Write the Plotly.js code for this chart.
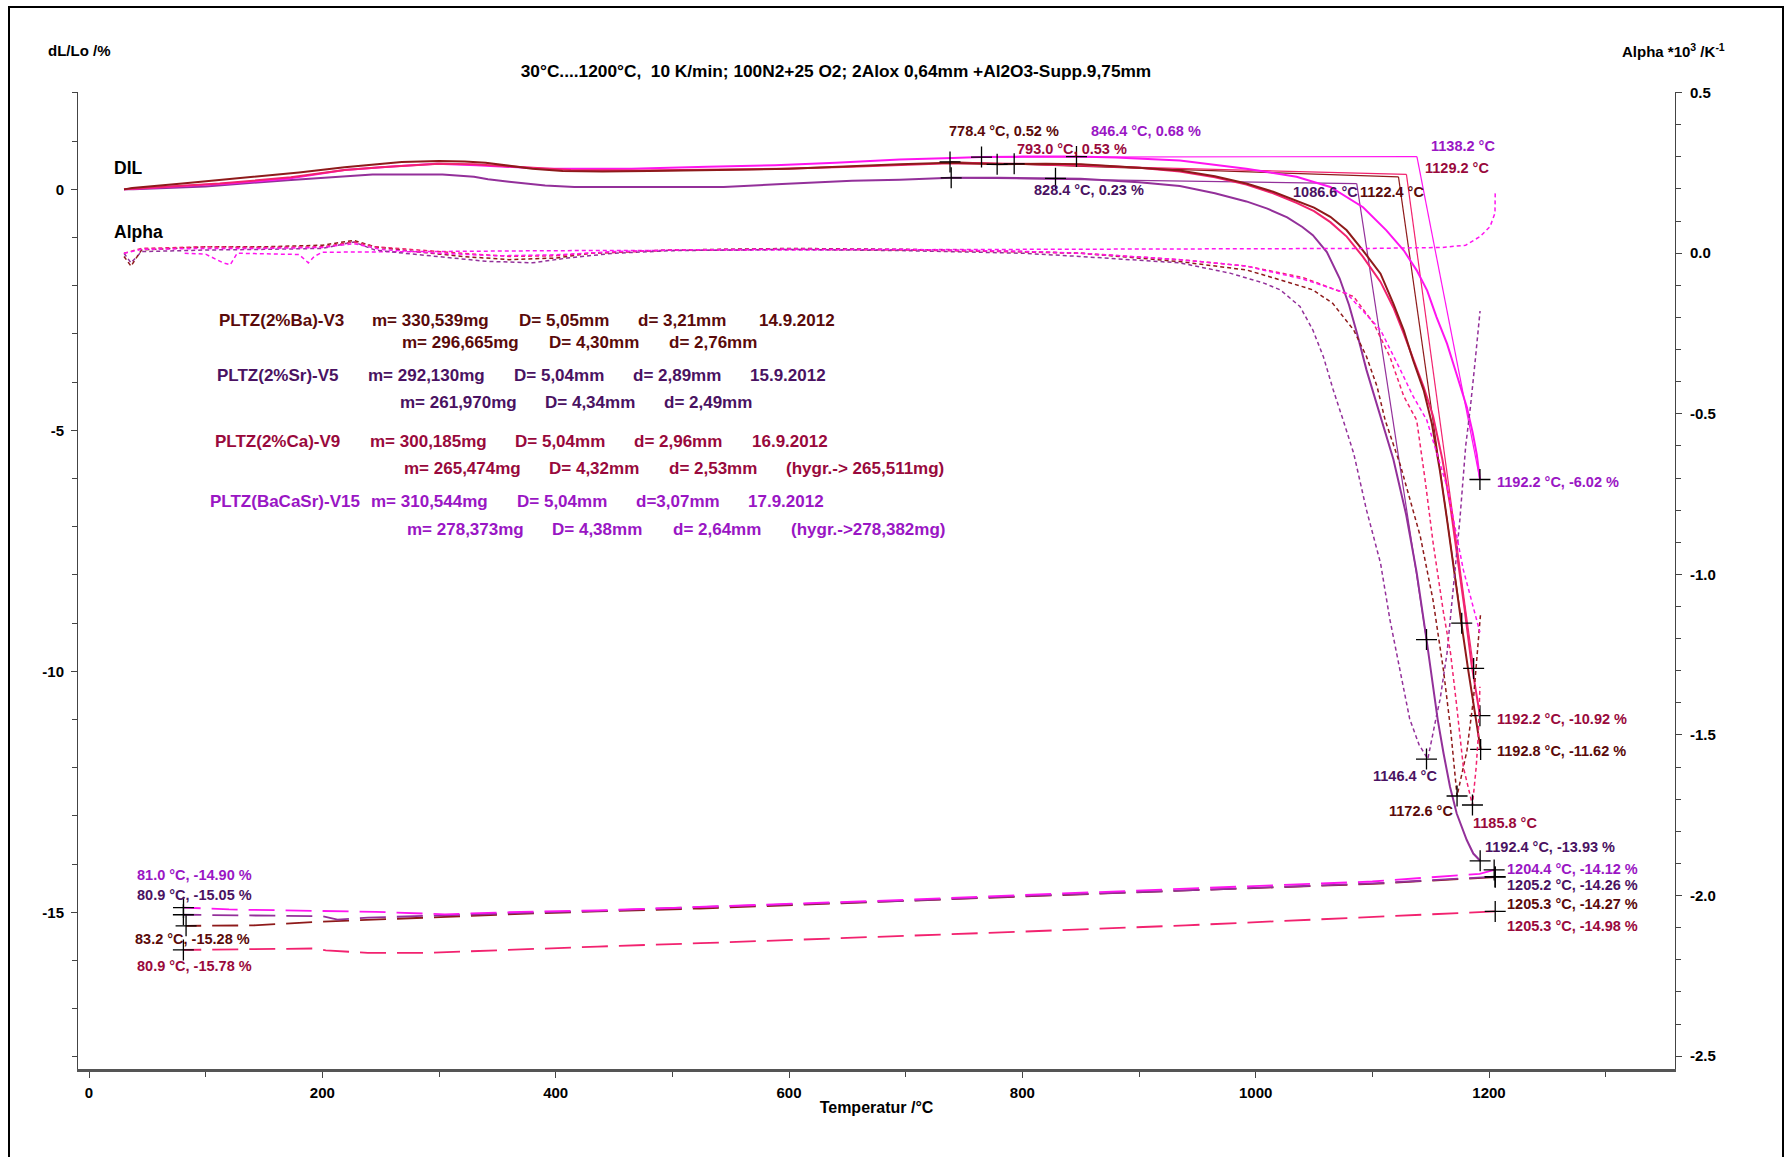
<!DOCTYPE html>
<html><head><meta charset="utf-8">
<script src="https://cdn.plot.ly/plotly-3.0.1.min.js"></script>
<style>html,body{margin:0;padding:0;background:#fff;}#chart{width:1792px;height:1157px;}</style>
</head><body><div id="chart"></div>
<script>
// ---------------- DATA ----------------
// DIL heating curves (temperature °C, dL/Lo %)
const baDilT = [30,37,80,145,180,219,250,268,300,322,340,357,380,406,440,480,520,568,600,650,695,738,779,820,850,900,935,965,992,1015,1035,1050,1064,1078,1092,1107,1118,1127,1135,1144,1151,1158,1164,1170,1176.6,1182,1187,1190,1192.8];
const baDilL = [0,0.03,0.12,0.26,0.35,0.46,0.53,0.57,0.59,0.58,0.55,0.50,0.43,0.38,0.37,0.38,0.39,0.41,0.43,0.48,0.52,0.55,0.52,0.53,0.52,0.45,0.39,0.27,0.12,-0.05,-0.23,-0.38,-0.57,-0.85,-1.27,-1.75,-2.37,-2.93,-3.55,-4.17,-4.86,-5.85,-6.85,-7.95,-9.05,-9.95,-10.75,-11.2,-11.62];
const caDilT = [30,80,112,173,219,250,300,330,356,390,413,473,533,594,654,714,738,793,850,900,935,965,992,1015,1035,1050,1064,1078,1092,1107,1118,1127,1135,1144,1152,1160,1167,1173,1179,1185,1189,1192.2];
const caDilL = [0,0.07,0.12,0.25,0.40,0.46,0.53,0.52,0.48,0.42,0.40,0.39,0.41,0.43,0.47,0.52,0.54,0.53,0.51,0.45,0.37,0.25,0.10,-0.08,-0.28,-0.45,-0.68,-0.98,-1.40,-1.92,-2.45,-3.0,-3.5,-4.1,-4.7,-5.6,-6.6,-7.6,-8.7,-9.85,-10.5,-10.92];
const srDilT = [30,38,100,170,243,303,330,342,360,391,416,480,544,594,613,654,695,739,780,828.4,850,900,935,965,992,1010,1027,1040,1049,1061,1072,1080,1087,1095,1107,1118,1129,1138,1146.5,1152,1156,1161,1166.6,1172.3,1180.9,1186.5,1192.4];
const srDilL = [0,0,0.06,0.19,0.31,0.31,0.26,0.21,0.16,0.08,0.05,0.05,0.05,0.11,0.13,0.18,0.20,0.24,0.24,0.23,0.22,0.15,0.07,-0.08,-0.25,-0.40,-0.58,-0.78,-0.95,-1.3,-1.85,-2.4,-3.0,-3.75,-4.7,-5.6,-6.75,-7.95,-9.35,-10.3,-11.0,-11.7,-12.4,-12.95,-13.5,-13.78,-13.93];
const v15DilT = [30,80,120,170,219,263,298,332,360,391,440,465,530,588,640,695,740,765,800,846.4,880,935,992,1035,1064,1092,1112,1127,1138,1147,1155,1164,1172,1181,1186,1189.5,1192.2];
const v15DilL = [0,0.06,0.12,0.22,0.40,0.48,0.53,0.50,0.47,0.43,0.43,0.43,0.47,0.50,0.55,0.62,0.65,0.67,0.68,0.68,0.66,0.60,0.43,0.26,0.05,-0.37,-0.85,-1.27,-1.68,-2.1,-2.65,-3.2,-3.82,-4.52,-5.05,-5.5,-6.02];

// DIL cooling curves
const v15CoolT = [1204.4,1192,1100,935,800,700,610,524,436,370,305,246,190,120,81.0];
const v15CoolL = [-14.12,-14.2,-14.36,-14.51,-14.64,-14.74,-14.81,-14.88,-14.96,-14.99,-15.04,-14.99,-14.97,-14.94,-14.90];
const srCoolT = [1205.2,1100,935,800,700,610,524,436,370,305,239,213,200,120,80.9];
const srCoolL = [-14.26,-14.40,-14.55,-14.66,-14.76,-14.82,-14.89,-14.97,-15.01,-15.06,-15.11,-15.15,-15.08,-15.07,-15.05];
const baCoolT = [1205.3,1100,935,800,700,610,524,436,370,288,193,141,83.2];
const baCoolL = [-14.27,-14.41,-14.55,-14.67,-14.77,-14.84,-14.92,-14.98,-15.03,-15.11,-15.20,-15.27,-15.28];
const caCoolT = [1205.3,1078,940,800,700,610,524,436,337,291,239,203,193,120,80.9];
const caCoolL = [-14.98,-15.12,-15.27,-15.40,-15.49,-15.56,-15.64,-15.71,-15.79,-15.84,-15.84,-15.79,-15.75,-15.77,-15.78];

// Alpha curves (10^-3 /K), right axis
const baAlphaT = [30,36,45,100,150,200,227,245,280,320,360,400,430,500,600,700,800,850,935,992,1021,1049,1066,1084,1095,1104,1111,1124,1141,1152,1161,1167,1172.6,1181,1186.6,1190,1192.8];
const baAlphaR = [-0.01,-0.04,0.01,0.02,0.02,0.025,0.04,0.02,0.005,-0.01,-0.02,-0.015,0.0,0.01,0.015,0.012,0.005,0.0,-0.026,-0.052,-0.083,-0.114,-0.156,-0.239,-0.322,-0.415,-0.52,-0.66,-0.88,-1.08,-1.3,-1.48,-1.69,-1.55,-1.39,-1.25,-1.12];
const caAlphaT = [30,45,100,150,200,227,245,280,320,360,400,430,500,600,700,800,850,935,992,1040,1084,1101,1115,1127,1138,1145,1152,1161,1167,1172,1178,1185.8,1189,1190.8,1192.2];
const caAlphaR = [0.0,0.015,0.02,0.018,0.02,0.035,0.02,0.01,0.0,-0.01,-0.008,0.0,0.01,0.013,0.01,0.004,0.0,-0.02,-0.04,-0.075,-0.135,-0.218,-0.322,-0.446,-0.52,-0.7,-0.9,-1.12,-1.245,-1.40,-1.60,-1.718,-1.6,-1.5,-1.35];
const srAlphaT = [30,36,45,100,150,200,227,245,270,300,340,380,410,450,500,600,700,800,849,935,978,1007,1021,1038,1049,1058,1066.5,1075,1084,1095,1107,1115,1126.5,1132,1140,1147.5,1155,1158,1164,1169.4,1175,1180,1184,1188,1192.3];
const srAlphaR = [0.0,-0.03,0.005,0.01,0.012,0.015,0.035,0.01,0.0,-0.01,-0.025,-0.03,-0.015,0.0,0.008,0.012,0.008,0.0,-0.01,-0.03,-0.062,-0.093,-0.114,-0.166,-0.239,-0.322,-0.426,-0.52,-0.623,-0.80,-0.965,-1.14,-1.35,-1.45,-1.53,-1.575,-1.44,-1.39,-1.245,-1.04,-0.83,-0.6,-0.48,-0.34,-0.18];
const v15AlphaT = [30,45,100,150,200,227,250,300,350,400,450,500,600,700,800,850,935,992,1006,1040,1078,1107,1124,1135,1146.6,1164,1178,1186,1192.2];
const v15AlphaR = [0.0,0.012,0.015,0.015,0.018,0.03,0.012,0.0,-0.008,-0.005,0.005,0.01,0.013,0.012,0.006,0.0,-0.02,-0.04,-0.052,-0.08,-0.125,-0.239,-0.363,-0.446,-0.519,-0.727,-0.986,-1.1,-1.18];
const v15CoolAlphaT = [82,100,115,121,127,180,188,193,200,300,400,600,800,1000,1100,1160,1180,1192.3,1200.9,1205.1,1205.3];
const v15CoolAlphaR = [0.0,-0.003,-0.03,-0.036,0.0,-0.004,-0.03,-0.01,0.003,0.006,0.008,0.01,0.012,0.013,0.015,0.018,0.025,0.052,0.083,0.125,0.187];

// Onset construction lines (tangents)
const baBaseT = [738,1122.4], baBaseL = [0.57,0.26];
const baStepT = [1122.4,1176.6], baStepL = [0.26,-9.0];
const caBaseT = [738,1129.2], caBaseL = [0.56,0.31];
const caStepT = [1129.2,1186.8], caStepL = [0.31,-9.94];
const srBaseT = [739,1086.6], srBaseL = [0.24,0.12];
const srStepT = [1086.6,1146.4], srStepL = [0.12,-9.34];
const v15BaseT = [765,1138.2], v15BaseL = [0.67,0.68];
const v15StepT = [1138.2,1192.2], v15StepL = [0.68,-6.02];

// Evaluation markers
const dilMarkT = [738,778.4,793.0,765,846.4,739,828.4,1146.4,1176.6,1186.8,1192.2,1192.2,1192.8,1192.4,1204.4,1205.2,1205.3,1205.3,81.0,80.9,83.2,80.9];
const dilMarkL = [0.57,0.52,0.53,0.67,0.68,0.24,0.23,-9.34,-9.0,-9.94,-6.02,-10.92,-11.62,-13.93,-14.12,-14.26,-14.27,-14.98,-14.90,-15.05,-15.28,-15.78];
const alphaMarkT = [1146.4,1172.6,1185.8];
const alphaMarkR = [-1.575,-1.69,-1.718];

// Evaluation label texts and their sample
const labelTexts = ['778.4 °C, 0.52 %','846.4 °C, 0.68 %','793.0 °C, 0.53 %','828.4 °C, 0.23 %','1138.2 °C','1129.2 °C','1086.6 °C','1122.4 °C','1192.2 °C, -6.02 %','1192.2 °C, -10.92 %','1192.8 °C, -11.62 %','1146.4 °C','1172.6 °C','1185.8 °C','1192.4 °C, -13.93 %','1204.4 °C, -14.12 %','1205.2 °C, -14.26 %','1205.3 °C, -14.27 %','1205.3 °C, -14.98 %','81.0 °C, -14.90 %','80.9 °C, -15.05 %','83.2 °C, -15.28 %','80.9 °C, -15.78 %'];
const labelSample = ['ba','v15','ca','sr','v15','ca','sr','ba','v15','ca','ba','sr','ba','ca','sr','v15','sr','ba','ca','v15','sr','ba','ca'];

// Sample info text block
const infoRows = [
 ['PLTZ(2%Ba)-V3','m= 330,539mg','D= 5,05mm','d= 3,21mm','14.9.2012'],
 ['','m= 296,665mg','D= 4,30mm','d= 2,76mm',''],
 ['PLTZ(2%Sr)-V5','m= 292,130mg','D= 5,04mm','d= 2,89mm','15.9.2012'],
 ['','m= 261,970mg','D= 4,34mm','d= 2,49mm',''],
 ['PLTZ(2%Ca)-V9','m= 300,185mg','D= 5,04mm','d= 2,96mm','16.9.2012'],
 ['','m= 265,474mg','D= 4,32mm','d= 2,53mm','(hygr.-> 265,511mg)'],
 ['PLTZ(BaCaSr)-V15','m= 310,544mg','D= 5,04mm','d=3,07mm','17.9.2012'],
 ['','m= 278,373mg','D= 4,38mm','d= 2,64mm','(hygr.->278,382mg)']
];
const infoSample = ['ba','ba','sr','sr','ca','ca','v15','v15'];

// Axis ticks
const xTickVals = [0,200,400,600,800,1000,1200];
const xTickText = ['0','200','400','600','800','1000','1200'];
const yTickVals = [0,-5,-10,-15];
const yTickText = ['0','-5','-10','-15'];
const y2TickVals = [0.5,0,-0.5,-1,-1.5,-2,-2.5];
const y2TickText = ['0.5','0.0','-0.5','-1.0','-1.5','-2.0','-2.5'];

const chartTitle = '30°C....1200°C,  10 K/min; 100N2+25 O2; 2Alox 0,64mm +Al2O3-Supp.9,75mm';

// ---------------- STYLE / LAYOUT ----------------
const FONT = "'Liberation Sans', Arial, Helvetica, sans-serif";
const LINE = {ba:'#8E1A1A', sr:'#93309A', ca:'#F2226F', v15:'#FF14F0'};
const TXT = {ba:'#5A0A0A', sr:'#4A1262', ca:'#99093C', v15:'#9A16C4'};

const W = 1792, H = 1157;
const PL = 78, PR = 1675, PT = 92, PB = 1069;
const px2x = p => (p - PL) / (PR - PL);
const px2y = p => (PB - p) / (PB - PT);

function ln(x, y, color, width, dash, yaxis) {
  return {type:'scatter', mode:'lines', x:x, y:y, yaxis:yaxis||'y',
    line:{color:color, width:width, dash:dash||'solid'}, hoverinfo:'skip', showlegend:false};
}
const DASH = '26px,11px', DOT = '4px,3px';
const traces = [
  // alpha (dotted, right axis)
  ln(v15CoolAlphaT, v15CoolAlphaR, LINE.v15, 1.5, DOT, 'y2'),
  ln(srAlphaT, srAlphaR, LINE.sr, 1.5, DOT, 'y2'),
  ln(baAlphaT, baAlphaR, LINE.ba, 1.5, DOT, 'y2'),
  ln(caAlphaT, caAlphaR, LINE.ca, 1.5, DOT, 'y2'),
  ln(v15AlphaT, v15AlphaR, LINE.v15, 1.5, DOT, 'y2'),
  // cooling (dashed)
  ln(caCoolT, caCoolL, LINE.ca, 1.8, DASH),
  ln(baCoolT, baCoolL, LINE.ba, 1.8, DASH),
  ln(srCoolT, srCoolL, LINE.sr, 1.8, DASH),
  ln(v15CoolT, v15CoolL, LINE.v15, 1.8, DASH),
  // tangents
  ln(srBaseT, srBaseL, LINE.sr, 1.2), ln(srStepT, srStepL, LINE.sr, 1.2),
  ln(baBaseT, baBaseL, LINE.ba, 1.2), ln(baStepT, baStepL, LINE.ba, 1.2),
  ln(caBaseT, caBaseL, LINE.ca, 1.2), ln(caStepT, caStepL, LINE.ca, 1.2),
  ln(v15BaseT, v15BaseL, LINE.v15, 1.2), ln(v15StepT, v15StepL, LINE.v15, 1.2),
  // heating DIL
  ln(srDilT, srDilL, LINE.sr, 2),
  ln(v15DilT, v15DilL, LINE.v15, 2),
  ln(caDilT, caDilL, LINE.ca, 2),
  ln(baDilT, baDilL, LINE.ba, 2),
  // markers
  {type:'scatter', mode:'markers', x:dilMarkT, y:dilMarkL, yaxis:'y', hoverinfo:'skip', showlegend:false,
   marker:{symbol:'cross-thin-open', size:15, color:'#000', line:{color:'#000', width:1.3}}},
  {type:'scatter', mode:'markers', x:alphaMarkT, y:alphaMarkR, yaxis:'y2', hoverinfo:'skip', showlegend:false,
   marker:{symbol:'cross-thin-open', size:15, color:'#000', line:{color:'#000', width:1.3}}}
];

// label positions (data coords: T, dL/Lo) in same order as labelTexts
const labelPos = [[735.7,1.22],[857,1.22],[793.6,0.84],[808.3,-0.01],[1148.2,0.91],[1143.3,0.44],[1030.6,-0.06],[1087.5,-0.06],
  [1205,-6.08],[1205,-10.99],[1205,-11.66],[1099.2,-12.18],[1112.9,-12.89],[1184.5,-13.15],[1195.2,-13.65],
  [1213.8,-14.10],[1213.8,-14.43],[1213.8,-14.83],[1213.8,-15.28],[39.3,-14.22],[39.3,-14.65],[37.4,-15.55],[39.3,-16.11]];

const annotations = [];
labelTexts.forEach((t, i) => {
  annotations.push({x:labelPos[i][0], y:labelPos[i][1], xref:'x', yref:'y', text:t, showarrow:false,
    xanchor:'left', yanchor:'middle', font:{family:FONT, size:14.5, color:TXT[labelSample[i]], weight:700}});
});
// info block positions (pixels)
const infoColX = [
  [216.7,369.8,516.7,635.6,756.5],[0,400.4,547.3,667.2,0],
  [214.7,366.2,511.6,630.5,747.9],[0,397.9,543.3,662.1,0],
  [213.2,367.8,512.7,631.5,750.4],[0,401.9,547.3,667.2,783.6],
  [208.1,368.8,515.2,634.1,746.3],[0,404.5,549.9,670.8,788.7]];
const infoRowY = [320,342.3,375,402.7,441.7,468.3,501.7,529.3];
infoRows.forEach((row, r) => {
  row.forEach((t, c) => {
    if (!t) return;
    annotations.push({x:px2x(infoColX[r][c]), y:px2y(infoRowY[r]), xref:'paper', yref:'paper', text:t, showarrow:false,
      xanchor:'left', yanchor:'middle', font:{family:FONT, size:17, color:TXT[infoSample[r]], weight:700}});
  });
});
// axis titles & curve group labels
annotations.push({x:px2x(46), y:px2y(50), xref:'paper', yref:'paper', text:'dL/Lo /%', showarrow:false,
  xanchor:'left', yanchor:'middle', font:{family:FONT, size:15, color:'#000', weight:700}});
annotations.push({x:px2x(1620), y:px2y(50), xref:'paper', yref:'paper', text:'Alpha *10<sup>3</sup> /K<sup>-1</sup>', showarrow:false,
  xanchor:'left', yanchor:'middle', font:{family:FONT, size:15, color:'#000', weight:700}});
annotations.push({x:px2x(112), y:px2y(168), xref:'paper', yref:'paper', text:'DIL', showarrow:false,
  xanchor:'left', yanchor:'middle', font:{family:FONT, size:17.5, color:'#000', weight:700}});
annotations.push({x:px2x(112), y:px2y(232), xref:'paper', yref:'paper', text:'Alpha', showarrow:false,
  xanchor:'left', yanchor:'middle', font:{family:FONT, size:17.5, color:'#000', weight:700}});

const tickFont = {family:FONT, size:15, color:'#000', weight:700};
const layout = {
  width:W, height:H,
  margin:{l:PL, r:W-PR, t:PT, b:H-PB, pad:0},
  paper_bgcolor:'#fff', plot_bgcolor:'#fff',
  showlegend:false,
  title:{text:chartTitle, x:836/W, y:1-71/H, xref:'container', yref:'container', xanchor:'center', yanchor:'middle',
    font:{family:FONT, size:17.3, color:'#000', weight:700}},
  xaxis:{range:[-9.43,1359.4], tickmode:'array', tickvals:xTickVals, ticktext:xTickText,
    ticks:'outside', ticklen:6, tickcolor:'#444', tickwidth:1, showgrid:false, zeroline:false,
    showline:true, linecolor:'#555', linewidth:2.5, tickfont:tickFont, ticklabelstandoff:2,
    minor:{tickmode:'linear', tick0:0, dtick:100, ticks:'outside', ticklen:5, tickcolor:'#444', showgrid:false},
    title:{text:'Temperatur /°C', font:{family:FONT, size:16, color:'#000', weight:700}, standoff:3}},
  yaxis:{range:[-18.25,2.02], tickmode:'array', tickvals:yTickVals, ticktext:yTickText,
    ticks:'outside', ticklen:6, tickcolor:'#444', showgrid:false, zeroline:false,
    showline:true, linecolor:'#444', linewidth:1, tickfont:tickFont, ticklabelstandoff:4,
    minor:{tickmode:'linear', tick0:0, dtick:1, ticks:'outside', ticklen:5, tickcolor:'#444', showgrid:false}},
  yaxis2:{range:[-2.54,0.502], overlaying:'y', side:'right', tickmode:'array', tickvals:y2TickVals, ticktext:y2TickText,
    ticks:'outside', ticklen:6, tickcolor:'#444', showgrid:false, zeroline:false,
    showline:true, linecolor:'#444', linewidth:1, tickfont:tickFont, ticklabelstandoff:5,
    minor:{tickmode:'linear', tick0:0, dtick:0.1, ticks:'outside', ticklen:5, tickcolor:'#444', showgrid:false}},
  shapes:[{type:'rect', xref:'paper', yref:'paper', x0:px2x(9), x1:px2x(1783), y0:px2y(1170), y1:px2y(7),
    line:{color:'#000', width:2}, fillcolor:'rgba(0,0,0,0)'}],
  annotations:annotations
};
Plotly.newPlot('chart', traces, layout, {staticPlot:true, displayModeBar:false});
</script></body></html>
